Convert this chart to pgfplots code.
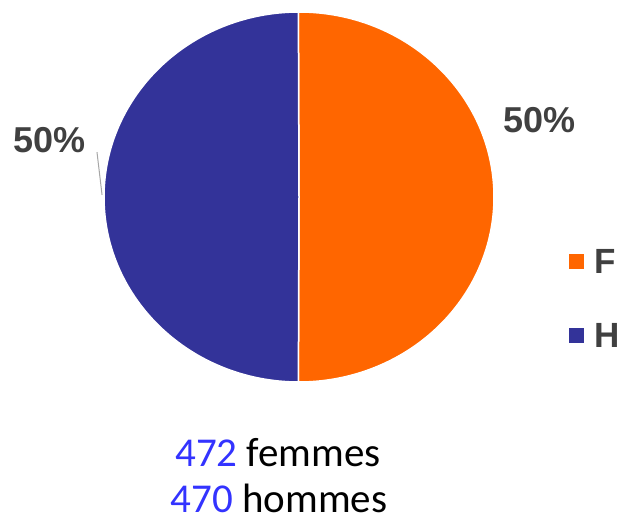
\documentclass[border=0pt]{standalone}
\usepackage{pgfplots}
\pgfplotsset{compat=1.18}
\usepackage{pgfplotstable}
\usepackage{fontspec}
\setmainfont{Liberation Sans}
\newfontfamily\carlito{Carlito}
\definecolor{fcol}{RGB}{255,102,0}
\definecolor{hcol}{RGB}{51,51,153}
\definecolor{labgray}{RGB}{64,64,64}
\definecolor{numblue}{RGB}{51,51,255}
\definecolor{leader}{RGB}{166,166,166}
\pgfplotstableread{
label value
F 472
H 470
}\piedata
\begin{document}
\begin{tikzpicture}
\useasboundingbox (0,0) rectangle (623bp,523bp);
\pgfplotstablegetelem{0}{value}\of\piedata \let\vF\pgfplotsretval
\pgfplotstablegetelem{1}{value}\of\piedata \let\vH\pgfplotsretval
\pgfmathsetmacro{\aF}{360*(\vF/(\vF+\vH))}
\pgfmathsetmacro{\startF}{90.19}
\pgfmathsetmacro{\endF}{\startF-\aF}
\pgfmathsetmacro{\endH}{\startF}
\pgfmathsetmacro{\startH}{\endF+360}
\begin{axis}[
  scale only axis, width=390bp, height=370bp,
  xmin=-1, xmax=1, ymin=-1, ymax=1,
  hide axis, clip=false,
  anchor=center, at={(299bp,326bp)},
]
\fill[fcol, draw=white, line width=1.5bp] (axis cs:0,0) -- ++(\startF:195bp and 185bp)
  arc[start angle=\startF, end angle=\endF, x radius=195bp, y radius=185bp] -- cycle;
\fill[hcol, draw=white, line width=1.5bp] (axis cs:0,0) -- ++(\endH:195bp and 185bp)
  arc[start angle=\endH, end angle=\startH, x radius=195bp, y radius=185bp] -- cycle;
\draw[leader, line width=1bp] (axis cs:-1.036,0.243) -- (axis cs:-1.010,0.011);
\node[anchor=base, text=labgray, font=\fontsize{36bp}{40bp}\selectfont\bfseries, inner sep=0pt] at (axis cs:1.233,0.346) {50\%};
\node[anchor=base, text=labgray, font=\fontsize{36bp}{40bp}\selectfont\bfseries, inner sep=0pt] at (axis cs:-1.277,0.243) {50\%};
% legend
\fill[fcol] (axis cs:1.385,-0.308) rectangle (axis cs:1.462,-0.389);
\fill[hcol] (axis cs:1.385,-0.708) rectangle (axis cs:1.462,-0.789);
\node[anchor=base west, text=labgray, font=\fontsize{35bp}{38bp}\selectfont\bfseries, inner sep=0pt] at (axis cs:1.515,-0.411) {F};
\node[anchor=base west, text=labgray, font=\fontsize{35bp}{38bp}\selectfont\bfseries, inner sep=0pt] at (axis cs:1.515,-0.811) {H};
\node[anchor=base, inner sep=0pt, font=\carlito\fontsize{41bp}{46bp}\selectfont] at (axis cs:-0.108,-1.459) {\textcolor{numblue}{472} femmes};
\node[anchor=base, inner sep=0pt, font=\carlito\fontsize{41bp}{46bp}\selectfont] at (axis cs:-0.103,-1.708) {\textcolor{numblue}{470} hommes};
\end{axis}
\end{tikzpicture}
\end{document}
